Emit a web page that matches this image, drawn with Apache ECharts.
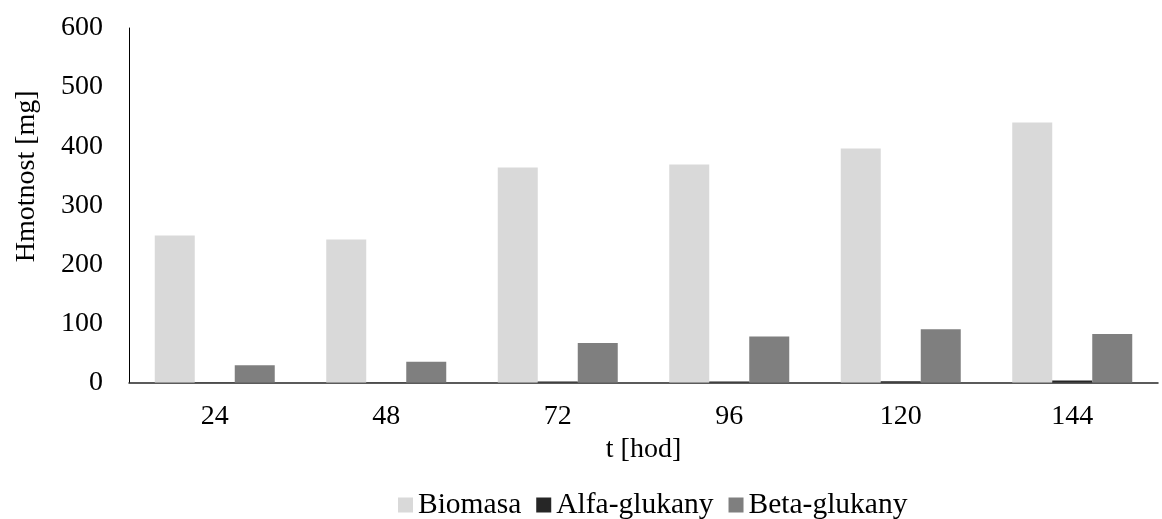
<!DOCTYPE html>
<html><head><meta charset="utf-8">
<script src="https://cdn.jsdelivr.net/npm/echarts@6/dist/echarts.min.js"></script>
<style>html,body{margin:0;padding:0;background:#fff}#c{width:1162px;height:519px}</style>
</head><body><div id="c"></div>
<script>
const categories = ['24', '48', '72', '96', '120', '144'];
const biomasa = [249, 242, 364, 369, 396, 440];
const alfa = [0.5, 0.5, 1.5, 1.5, 2, 3.5];
const beta = [29, 35, 67, 78, 90, 82];
const yTicks = [0, 100, 200, 300, 400, 500, 600];

const font = 'Liberation Serif';
const fs = 28;
const chart = echarts.init(document.getElementById('c'), null, {renderer: 'canvas'});
chart.setOption({
  animation: false,
  textStyle: {fontFamily: font},
  grid: {left: 129, right: 4, top: 28, bottom: 136.5, containLabel: false},
  legend: {
    data: ['Biomasa', 'Alfa-glukany', 'Beta-glukany'],
    top: 490, left: 398, padding: 0,
    icon: 'rect', itemWidth: 15, itemHeight: 15, itemGap: 15,
    textStyle: {fontFamily: font, fontSize: 29.5, color: '#000'}
  },
  xAxis: {
    type: 'category', data: categories,
    name: 't [hod]', nameLocation: 'middle', nameGap: 46,
    nameTextStyle: {fontFamily: font, fontSize: fs, color: '#000'},
    axisLine: {lineStyle: {color: '#262626', width: 1.5}},
    axisTick: {show: false},
    axisLabel: {fontFamily: font, fontSize: fs, color: '#000', margin: 20}
  },
  yAxis: {
    type: 'value', min: 0, max: 600, interval: 100,
    name: 'Hmotnost [mg]', nameLocation: 'middle', nameGap: 88,
    nameTextStyle: {fontFamily: font, fontSize: fs, color: '#000', padding: [0, 0, 0, 58]},
    axisLine: {show: true, lineStyle: {color: '#000', width: 1}},
    axisTick: {show: false},
    splitLine: {show: false},
    axisLabel: {fontFamily: font, fontSize: fs, color: '#000', margin: 26,
      formatter: v => yTicks.includes(v) ? String(v) : ''}
  },
  series: [
    {name: 'Biomasa', type: 'bar', data: biomasa, barWidth: 40, barGap: '0%', itemStyle: {color: '#d9d9d9'}},
    {name: 'Alfa-glukany', type: 'bar', data: alfa, barWidth: 40, barGap: '0%', itemStyle: {color: '#262626'}},
    {name: 'Beta-glukany', type: 'bar', data: beta, barWidth: 40, barGap: '0%', itemStyle: {color: '#7f7f7f'}}
  ]
});
</script></body></html>
